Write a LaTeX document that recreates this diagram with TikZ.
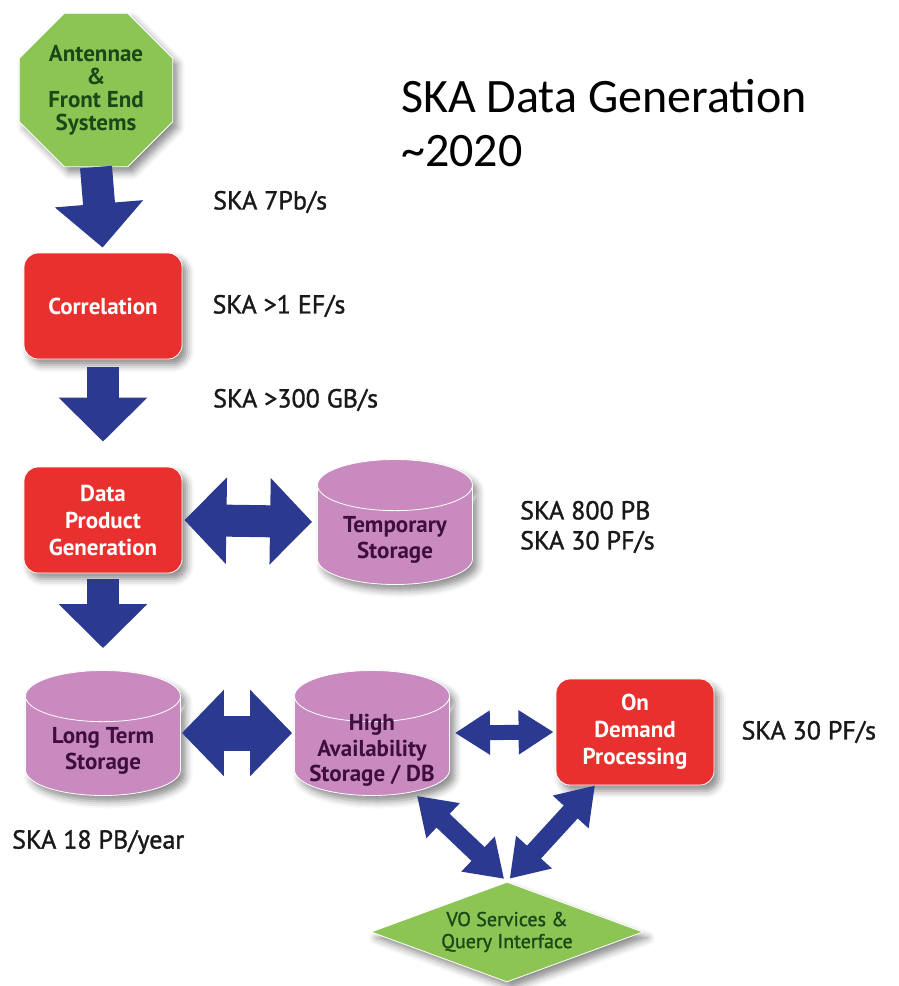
\documentclass[tikz,border=0pt]{standalone}
\usepackage{fontspec}
\setmainfont{PT Sans}
\newfontfamily\titlefont{Carlito}
\newfontfamily\labelfont[FakeBold=1.3]{PT Sans}
\usetikzlibrary{positioning}
\usetikzlibrary{shapes.geometric}
\usetikzlibrary{arrows.meta}
\usetikzlibrary{shadows.blur}

\definecolor{skagreen}{RGB}{140,197,84}
\definecolor{skared}{RGB}{232,49,46}
\definecolor{skapink}{RGB}{201,139,191}
\definecolor{skablue}{RGB}{43,57,144}
\definecolor{darkgreen}{RGB}{28,72,24}
\definecolor{darkplum}{RGB}{62,14,62}

\begin{document}
\begin{tikzpicture}[x=1pt, y=-1pt,
                          softshadow/.style={blur shadow={shadow xshift=5pt, shadow yshift=-6pt, shadow blur radius=7pt, shadow opacity=45}},
                          octnode/.style={regular polygon, regular polygon sides=8, draw=white, thick, fill=skagreen, minimum size=166pt, inner sep=0pt, align=center, text=darkgreen, font=\fontsize{23}{23}\selectfont\bfseries, softshadow},
                          redbox/.style={rectangle, rounded corners=14pt, draw=white, thick, fill=skared, minimum width=158pt, minimum height=106pt, align=center, text=white, font=\fontsize{23}{27}\selectfont\bfseries, softshadow},
                          storenode/.style={cylinder, shape border rotate=90, aspect=0.33, draw=white, thick, fill=skapink, text width=150pt, inner sep=2.5pt, minimum height=125pt, anchor=shape center, softshadow},
                          storetext/.style={align=center, inner sep=0pt, text=darkplum, font=\fontsize{23}{26}\selectfont\bfseries, anchor=south, yshift=21pt},
                          vonode/.style={diamond, aspect=2.7, draw=white, thick, fill=skagreen, minimum width=272pt, minimum height=100pt, inner sep=0pt, align=center, text=darkgreen, font=\labelfont\fontsize{20}{22}\selectfont, softshadow},
                          figlabel/.style={anchor=west, inner sep=0pt, align=left, text=black!90, font=\labelfont\fontsize{26}{30}\selectfont},
                          downflow/.style={draw=skablue, line width=32pt, -{Triangle[width=86pt,length=44pt]}},
                          twoway/.style={draw=skablue, line width=32pt, {Triangle[width=84pt,length=42pt]}-{Triangle[width=84pt,length=42pt]}},
                          smalltwoway/.style={draw=skablue, line width=15pt, {Triangle[width=42pt,length=35pt]}-{Triangle[width=42pt,length=35pt]}},
                          diagtwoway/.style={draw=skablue, line width=19pt, {Triangle[width=46pt,length=36pt]}-{Triangle[width=46pt,length=36pt]}},
                      ]
                      % Nodes
                      \node[octnode]          (antenna)    at (96,90)       {Antennae\\\&\\Front End\\Systems};
                      \node[redbox]           (corr)       at (103,306)     {Correlation};
                      \node[redbox]           (dpg)        at (103,520)     {Data\\Product\\Generation};
                      \node[storenode, label={[storetext]south:{Temporary\\Storage}}]          (tmpstore)   at (395,522)  {};
                      \node[storenode, label={[storetext]south:{Long Term\\Storage}}]          (ltstore)    at (103,733)  {};
                      \node[storenode, label={[storetext, yshift=-12pt, font=\fontsize{23}{25.5}\selectfont\bfseries]south:{High\\Availability\\Storage / DB}}] (hastore) at (372,733) {};
                      \node[redbox]           (ondemand)   at (635,732)     {On\\Demand\\Processing};
                      \node[vonode]           (vo)         at (507,932)     {VO Services \&\\Query Interface};

                      % Title and labels
                      \node[anchor=base west, inner sep=0pt, align=left, font=\titlefont\fontsize{48}{54}\selectfont] (title) at (401,166) {SKA Data Generation\\\textasciitilde2020};
                      \node[figlabel]         (lab7pb)     at (213,202)     {SKA 7Pb/s};
                      \node[figlabel]         (lab1ef)     [right=30pt of corr]     {SKA >1 EF/s};
                      \node[figlabel]         (lab300gb)   at (213,400)     {SKA >300 GB/s};
                      \node[figlabel]         (labtmp)     at (520,527)     {SKA 800 PB\\SKA 30 PF/s};
                      \node[figlabel]         (lab18pb)    at (12,842)      {SKA 18 PB/year};
                      \node[figlabel]         (labod)      [right=27pt of ondemand] {SKA 30 PF/s};

                      %Lines
                      \draw[downflow, shorten >=5pt] (antenna.south) -- (corr.north);
                      \draw[downflow, shorten <=8pt, shorten >=25pt] (corr.south) -- (dpg.north);
                      \draw[downflow, shorten <=6pt, shorten >=22pt] (dpg.south) -- (ltstore.north);
                      \draw[twoway, shorten <=2pt, shorten >=5pt] (dpg.east) -- (tmpstore.shape center -| tmpstore.west);
                      \draw[twoway, line width=35pt, shorten <=1pt, shorten >=2pt] (ltstore.shape center -| ltstore.east) -- (hastore.shape center -| hastore.west);
                      \draw[smalltwoway, shorten <=5pt, shorten >=2pt] (hastore.shape center -| hastore.east) -- (ondemand.west);
                      \draw[diagtwoway, shorten >=4pt] ([xshift=45pt]hastore.south) -- (vo.north);
                      \draw[diagtwoway, shorten >=4pt] ([xshift=-40pt]ondemand.south) -- (vo.north);

                      \useasboundingbox (0,0) rectangle (899,986);
                  \end{tikzpicture}
\end{document}
